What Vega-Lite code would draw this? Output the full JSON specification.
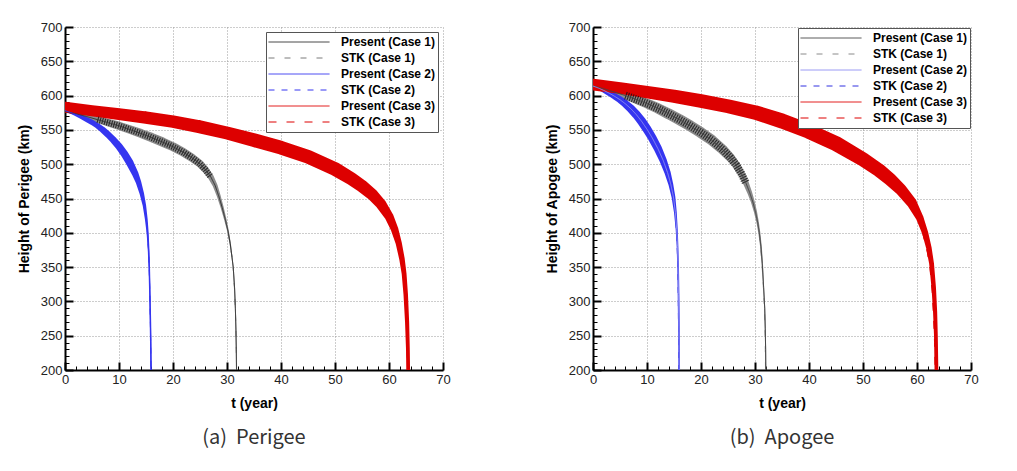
{
  "$schema": "https://vega.github.io/schema/vega-lite/v6.json",
  "padding": {"left": 17, "top": 21, "right": 5, "bottom": 5},
  "background": "white",
  "datasets": {
    "bandA": [
      {"series": "Present (Case 1)", "t": 0, "h": 577, "amp": 2},
      {"series": "Present (Case 1)", "t": 2, "h": 573.5, "amp": 4},
      {"series": "Present (Case 1)", "t": 4, "h": 569.5, "amp": 7},
      {"series": "Present (Case 1)", "t": 6, "h": 565, "amp": 9},
      {"series": "Present (Case 1)", "t": 8, "h": 560.5, "amp": 11},
      {"series": "Present (Case 1)", "t": 10, "h": 556, "amp": 12},
      {"series": "Present (Case 1)", "t": 12, "h": 550.5, "amp": 12.5},
      {"series": "Present (Case 1)", "t": 14, "h": 545, "amp": 13},
      {"series": "Present (Case 1)", "t": 16, "h": 539, "amp": 13.5},
      {"series": "Present (Case 1)", "t": 18, "h": 532.5, "amp": 13.5},
      {"series": "Present (Case 1)", "t": 20, "h": 525.5, "amp": 13},
      {"series": "Present (Case 1)", "t": 22, "h": 517, "amp": 12.5},
      {"series": "Present (Case 1)", "t": 23.5, "h": 509.5, "amp": 12},
      {"series": "Present (Case 1)", "t": 25, "h": 500.5, "amp": 11},
      {"series": "Present (Case 1)", "t": 26, "h": 492, "amp": 10},
      {"series": "Present (Case 1)", "t": 27, "h": 481.5, "amp": 8.5},
      {"series": "Present (Case 1)", "t": 27.8, "h": 469, "amp": 7},
      {"series": "Present (Case 1)", "t": 28.5, "h": 453, "amp": 5.5},
      {"series": "Present (Case 1)", "t": 29.1, "h": 437, "amp": 4.5},
      {"series": "Present (Case 1)", "t": 29.7, "h": 419, "amp": 3.5},
      {"series": "Present (Case 1)", "t": 30.2, "h": 402, "amp": 2.5},
      {"series": "Present (Case 1)", "t": 30.6, "h": 384, "amp": 2},
      {"series": "Present (Case 1)", "t": 30.9, "h": 366, "amp": 1.5},
      {"series": "Present (Case 1)", "t": 31.15, "h": 350, "amp": 1.5},
      {"series": "Present (Case 1)", "t": 31.4, "h": 320, "amp": 1.5},
      {"series": "Present (Case 1)", "t": 31.55, "h": 290, "amp": 1.5},
      {"series": "Present (Case 1)", "t": 31.65, "h": 260, "amp": 1.5},
      {"series": "Present (Case 1)", "t": 31.72, "h": 230, "amp": 1.5},
      {"series": "Present (Case 1)", "t": 31.76, "h": 200, "amp": 1.5},
      {"series": "Present (Case 2)", "t": 0, "h": 578, "amp": 2},
      {"series": "Present (Case 2)", "t": 1, "h": 575.5, "amp": 3.5},
      {"series": "Present (Case 2)", "t": 2, "h": 572.5, "amp": 5},
      {"series": "Present (Case 2)", "t": 3, "h": 569, "amp": 6},
      {"series": "Present (Case 2)", "t": 4, "h": 565, "amp": 7},
      {"series": "Present (Case 2)", "t": 5, "h": 561, "amp": 7.5},
      {"series": "Present (Case 2)", "t": 6, "h": 556, "amp": 8},
      {"series": "Present (Case 2)", "t": 7, "h": 550, "amp": 9},
      {"series": "Present (Case 2)", "t": 8, "h": 543, "amp": 9.5},
      {"series": "Present (Case 2)", "t": 9, "h": 535, "amp": 10},
      {"series": "Present (Case 2)", "t": 10, "h": 526, "amp": 10.5},
      {"series": "Present (Case 2)", "t": 11, "h": 515, "amp": 11},
      {"series": "Present (Case 2)", "t": 12, "h": 502, "amp": 11},
      {"series": "Present (Case 2)", "t": 13, "h": 486, "amp": 9.5},
      {"series": "Present (Case 2)", "t": 13.6, "h": 474, "amp": 8},
      {"series": "Present (Case 2)", "t": 14.2, "h": 458, "amp": 6.5},
      {"series": "Present (Case 2)", "t": 14.7, "h": 440, "amp": 5},
      {"series": "Present (Case 2)", "t": 15.05, "h": 420, "amp": 4},
      {"series": "Present (Case 2)", "t": 15.3, "h": 400, "amp": 3},
      {"series": "Present (Case 2)", "t": 15.5, "h": 372, "amp": 2.5},
      {"series": "Present (Case 2)", "t": 15.62, "h": 345, "amp": 2.2},
      {"series": "Present (Case 2)", "t": 15.72, "h": 310, "amp": 2.2},
      {"series": "Present (Case 2)", "t": 15.82, "h": 270, "amp": 2.2},
      {"series": "Present (Case 2)", "t": 15.88, "h": 240, "amp": 2.2},
      {"series": "Present (Case 2)", "t": 15.93, "h": 200, "amp": 2.2},
      {"series": "Present (Case 3)", "t": 0, "h": 583, "amp": 16},
      {"series": "Present (Case 3)", "t": 5, "h": 578, "amp": 16},
      {"series": "Present (Case 3)", "t": 10, "h": 573, "amp": 17},
      {"series": "Present (Case 3)", "t": 15, "h": 568, "amp": 18},
      {"series": "Present (Case 3)", "t": 20, "h": 562, "amp": 18},
      {"series": "Present (Case 3)", "t": 25, "h": 554.5, "amp": 19},
      {"series": "Present (Case 3)", "t": 30, "h": 545.5, "amp": 19},
      {"series": "Present (Case 3)", "t": 35, "h": 535, "amp": 20},
      {"series": "Present (Case 3)", "t": 40, "h": 524, "amp": 20},
      {"series": "Present (Case 3)", "t": 45, "h": 511, "amp": 20},
      {"series": "Present (Case 3)", "t": 50, "h": 493, "amp": 20},
      {"series": "Present (Case 3)", "t": 53, "h": 479, "amp": 19},
      {"series": "Present (Case 3)", "t": 55, "h": 468, "amp": 18.5},
      {"series": "Present (Case 3)", "t": 57, "h": 455, "amp": 17},
      {"series": "Present (Case 3)", "t": 58.5, "h": 442, "amp": 15.5},
      {"series": "Present (Case 3)", "t": 60, "h": 424, "amp": 13},
      {"series": "Present (Case 3)", "t": 61, "h": 406, "amp": 11},
      {"series": "Present (Case 3)", "t": 61.8, "h": 385, "amp": 9},
      {"series": "Present (Case 3)", "t": 62.4, "h": 362, "amp": 8},
      {"series": "Present (Case 3)", "t": 62.8, "h": 340, "amp": 7},
      {"series": "Present (Case 3)", "t": 63.1, "h": 310, "amp": 6.5},
      {"series": "Present (Case 3)", "t": 63.35, "h": 270, "amp": 6},
      {"series": "Present (Case 3)", "t": 63.5, "h": 230, "amp": 5.5},
      {"series": "Present (Case 3)", "t": 63.55, "h": 200, "amp": 5.5}
    ],
    "stkA": [
      {"series": "STK (Case 1)", "t": 0, "h": 577},
      {"series": "STK (Case 1)", "t": 6, "h": 565},
      {"series": "STK (Case 1)", "t": 12, "h": 550.5},
      {"series": "STK (Case 1)", "t": 18, "h": 532.5},
      {"series": "STK (Case 1)", "t": 22, "h": 517},
      {"series": "STK (Case 1)", "t": 25, "h": 500.5},
      {"series": "STK (Case 1)", "t": 27, "h": 481.5},
      {"series": "STK (Case 1)", "t": 28.5, "h": 453},
      {"series": "STK (Case 1)", "t": 29.7, "h": 419},
      {"series": "STK (Case 1)", "t": 30.6, "h": 384},
      {"series": "STK (Case 1)", "t": 31.15, "h": 350},
      {"series": "STK (Case 1)", "t": 31.45, "h": 310},
      {"series": "STK (Case 1)", "t": 31.66, "h": 260},
      {"series": "STK (Case 1)", "t": 31.78, "h": 200},
      {"series": "STK (Case 2)", "t": 0, "h": 578},
      {"series": "STK (Case 2)", "t": 3, "h": 569},
      {"series": "STK (Case 2)", "t": 6, "h": 556},
      {"series": "STK (Case 2)", "t": 9, "h": 535},
      {"series": "STK (Case 2)", "t": 11, "h": 515},
      {"series": "STK (Case 2)", "t": 13, "h": 486},
      {"series": "STK (Case 2)", "t": 14.2, "h": 458},
      {"series": "STK (Case 2)", "t": 15.05, "h": 420},
      {"series": "STK (Case 2)", "t": 15.5, "h": 372},
      {"series": "STK (Case 2)", "t": 15.72, "h": 310},
      {"series": "STK (Case 2)", "t": 15.85, "h": 250},
      {"series": "STK (Case 2)", "t": 15.94, "h": 200},
      {"series": "STK (Case 3)", "t": 0, "h": 583},
      {"series": "STK (Case 3)", "t": 10, "h": 573},
      {"series": "STK (Case 3)", "t": 20, "h": 562},
      {"series": "STK (Case 3)", "t": 30, "h": 545.5},
      {"series": "STK (Case 3)", "t": 40, "h": 524},
      {"series": "STK (Case 3)", "t": 50, "h": 493},
      {"series": "STK (Case 3)", "t": 55, "h": 467},
      {"series": "STK (Case 3)", "t": 58.5, "h": 441},
      {"series": "STK (Case 3)", "t": 60, "h": 422},
      {"series": "STK (Case 3)", "t": 61, "h": 403},
      {"series": "STK (Case 3)", "t": 61.8, "h": 381},
      {"series": "STK (Case 3)", "t": 62.4, "h": 356},
      {"series": "STK (Case 3)", "t": 62.8, "h": 330},
      {"series": "STK (Case 3)", "t": 63.05, "h": 300},
      {"series": "STK (Case 3)", "t": 63.3, "h": 250},
      {"series": "STK (Case 3)", "t": 63.42, "h": 200}
    ],
    "bandB": [
      {"series": "Present (Case 1)", "t": 0, "h": 614, "amp": 2},
      {"series": "Present (Case 1)", "t": 2, "h": 610, "amp": 5},
      {"series": "Present (Case 1)", "t": 4, "h": 605, "amp": 8},
      {"series": "Present (Case 1)", "t": 6, "h": 600, "amp": 11},
      {"series": "Present (Case 1)", "t": 8, "h": 594.5, "amp": 13},
      {"series": "Present (Case 1)", "t": 10, "h": 588.5, "amp": 14},
      {"series": "Present (Case 1)", "t": 12, "h": 581.5, "amp": 15},
      {"series": "Present (Case 1)", "t": 14, "h": 573.5, "amp": 16},
      {"series": "Present (Case 1)", "t": 16, "h": 565, "amp": 16},
      {"series": "Present (Case 1)", "t": 18, "h": 556, "amp": 16},
      {"series": "Present (Case 1)", "t": 20, "h": 546, "amp": 16},
      {"series": "Present (Case 1)", "t": 22, "h": 535, "amp": 15.5},
      {"series": "Present (Case 1)", "t": 24, "h": 521.5, "amp": 14.5},
      {"series": "Present (Case 1)", "t": 25.4, "h": 510, "amp": 13},
      {"series": "Present (Case 1)", "t": 26.5, "h": 499, "amp": 11.5},
      {"series": "Present (Case 1)", "t": 27.5, "h": 486, "amp": 10},
      {"series": "Present (Case 1)", "t": 28.3, "h": 473, "amp": 8.5},
      {"series": "Present (Case 1)", "t": 29, "h": 459, "amp": 7},
      {"series": "Present (Case 1)", "t": 29.6, "h": 445, "amp": 5.5},
      {"series": "Present (Case 1)", "t": 30.1, "h": 430, "amp": 4.5},
      {"series": "Present (Case 1)", "t": 30.5, "h": 415, "amp": 3.5},
      {"series": "Present (Case 1)", "t": 30.8, "h": 400, "amp": 3},
      {"series": "Present (Case 1)", "t": 31.1, "h": 380, "amp": 2.5},
      {"series": "Present (Case 1)", "t": 31.35, "h": 355, "amp": 2},
      {"series": "Present (Case 1)", "t": 31.6, "h": 320, "amp": 1.5},
      {"series": "Present (Case 1)", "t": 31.8, "h": 290, "amp": 1.5},
      {"series": "Present (Case 1)", "t": 31.9, "h": 260, "amp": 1.5},
      {"series": "Present (Case 1)", "t": 31.97, "h": 230, "amp": 1.5},
      {"series": "Present (Case 1)", "t": 32.0, "h": 200, "amp": 1.5},
      {"series": "Present (Case 2)", "t": 0, "h": 614, "amp": 3},
      {"series": "Present (Case 2)", "t": 1, "h": 611, "amp": 5},
      {"series": "Present (Case 2)", "t": 2, "h": 607.5, "amp": 6.5},
      {"series": "Present (Case 2)", "t": 3, "h": 603.5, "amp": 8},
      {"series": "Present (Case 2)", "t": 4, "h": 599, "amp": 9},
      {"series": "Present (Case 2)", "t": 5, "h": 594, "amp": 10},
      {"series": "Present (Case 2)", "t": 6, "h": 588, "amp": 11},
      {"series": "Present (Case 2)", "t": 7, "h": 581, "amp": 12},
      {"series": "Present (Case 2)", "t": 8, "h": 572.5, "amp": 12.5},
      {"series": "Present (Case 2)", "t": 9, "h": 562.5, "amp": 13},
      {"series": "Present (Case 2)", "t": 10, "h": 551, "amp": 13},
      {"series": "Present (Case 2)", "t": 11, "h": 538, "amp": 12.5},
      {"series": "Present (Case 2)", "t": 12, "h": 523, "amp": 12},
      {"series": "Present (Case 2)", "t": 13, "h": 505.5, "amp": 10.5},
      {"series": "Present (Case 2)", "t": 13.8, "h": 488, "amp": 9},
      {"series": "Present (Case 2)", "t": 14.4, "h": 471, "amp": 7},
      {"series": "Present (Case 2)", "t": 14.9, "h": 452, "amp": 5.5},
      {"series": "Present (Case 2)", "t": 15.25, "h": 430, "amp": 4},
      {"series": "Present (Case 2)", "t": 15.5, "h": 405, "amp": 3},
      {"series": "Present (Case 2)", "t": 15.65, "h": 380, "amp": 2.5},
      {"series": "Present (Case 2)", "t": 15.76, "h": 350, "amp": 2.5},
      {"series": "Present (Case 2)", "t": 15.84, "h": 310, "amp": 2.5},
      {"series": "Present (Case 2)", "t": 15.9, "h": 270, "amp": 2.5},
      {"series": "Present (Case 2)", "t": 15.94, "h": 230, "amp": 2.5},
      {"series": "Present (Case 2)", "t": 15.96, "h": 200, "amp": 2.5},
      {"series": "Present (Case 3)", "t": 0, "h": 616, "amp": 17},
      {"series": "Present (Case 3)", "t": 5, "h": 611, "amp": 17},
      {"series": "Present (Case 3)", "t": 10, "h": 605, "amp": 18},
      {"series": "Present (Case 3)", "t": 15, "h": 599, "amp": 19},
      {"series": "Present (Case 3)", "t": 20, "h": 592, "amp": 20},
      {"series": "Present (Case 3)", "t": 25, "h": 584.5, "amp": 20},
      {"series": "Present (Case 3)", "t": 30, "h": 575.5, "amp": 21},
      {"series": "Present (Case 3)", "t": 35, "h": 563, "amp": 22},
      {"series": "Present (Case 3)", "t": 40, "h": 548, "amp": 22},
      {"series": "Present (Case 3)", "t": 45, "h": 530, "amp": 22},
      {"series": "Present (Case 3)", "t": 50, "h": 507, "amp": 21},
      {"series": "Present (Case 3)", "t": 53, "h": 491, "amp": 20},
      {"series": "Present (Case 3)", "t": 55, "h": 478, "amp": 19},
      {"series": "Present (Case 3)", "t": 57, "h": 463, "amp": 17},
      {"series": "Present (Case 3)", "t": 59, "h": 444, "amp": 15},
      {"series": "Present (Case 3)", "t": 60.5, "h": 422, "amp": 11},
      {"series": "Present (Case 3)", "t": 61.5, "h": 400, "amp": 9},
      {"series": "Present (Case 3)", "t": 62.2, "h": 378, "amp": 8},
      {"series": "Present (Case 3)", "t": 62.7, "h": 355, "amp": 7},
      {"series": "Present (Case 3)", "t": 63.1, "h": 320, "amp": 6.5},
      {"series": "Present (Case 3)", "t": 63.35, "h": 285, "amp": 6},
      {"series": "Present (Case 3)", "t": 63.5, "h": 250, "amp": 5.5},
      {"series": "Present (Case 3)", "t": 63.6, "h": 200, "amp": 5.5}
    ],
    "stkB": [
      {"series": "STK (Case 1)", "t": 0, "h": 614},
      {"series": "STK (Case 1)", "t": 6, "h": 600},
      {"series": "STK (Case 1)", "t": 12, "h": 581.5},
      {"series": "STK (Case 1)", "t": 18, "h": 556},
      {"series": "STK (Case 1)", "t": 22, "h": 535},
      {"series": "STK (Case 1)", "t": 25.4, "h": 510},
      {"series": "STK (Case 1)", "t": 27.5, "h": 486},
      {"series": "STK (Case 1)", "t": 29, "h": 459},
      {"series": "STK (Case 1)", "t": 30.1, "h": 430},
      {"series": "STK (Case 1)", "t": 30.8, "h": 400},
      {"series": "STK (Case 1)", "t": 31.3, "h": 355},
      {"series": "STK (Case 1)", "t": 31.55, "h": 320},
      {"series": "STK (Case 1)", "t": 31.75, "h": 290},
      {"series": "STK (Case 1)", "t": 31.88, "h": 250},
      {"series": "STK (Case 1)", "t": 31.95, "h": 200},
      {"series": "STK (Case 2)", "t": 0, "h": 614},
      {"series": "STK (Case 2)", "t": 3, "h": 603.5},
      {"series": "STK (Case 2)", "t": 6, "h": 588},
      {"series": "STK (Case 2)", "t": 9, "h": 562.5},
      {"series": "STK (Case 2)", "t": 11, "h": 538},
      {"series": "STK (Case 2)", "t": 13, "h": 505.5},
      {"series": "STK (Case 2)", "t": 14.4, "h": 471},
      {"series": "STK (Case 2)", "t": 14.9, "h": 452},
      {"series": "STK (Case 2)", "t": 15.25, "h": 428},
      {"series": "STK (Case 2)", "t": 15.48, "h": 400},
      {"series": "STK (Case 2)", "t": 15.63, "h": 370},
      {"series": "STK (Case 2)", "t": 15.73, "h": 340},
      {"series": "STK (Case 2)", "t": 15.8, "h": 300},
      {"series": "STK (Case 2)", "t": 15.85, "h": 250},
      {"series": "STK (Case 2)", "t": 15.88, "h": 200},
      {"series": "STK (Case 3)", "t": 0, "h": 616},
      {"series": "STK (Case 3)", "t": 10, "h": 605},
      {"series": "STK (Case 3)", "t": 20, "h": 592},
      {"series": "STK (Case 3)", "t": 30, "h": 575.5},
      {"series": "STK (Case 3)", "t": 40, "h": 548},
      {"series": "STK (Case 3)", "t": 50, "h": 506},
      {"series": "STK (Case 3)", "t": 55, "h": 476},
      {"series": "STK (Case 3)", "t": 57, "h": 460},
      {"series": "STK (Case 3)", "t": 58.8, "h": 440},
      {"series": "STK (Case 3)", "t": 60.2, "h": 418},
      {"series": "STK (Case 3)", "t": 61.1, "h": 398},
      {"series": "STK (Case 3)", "t": 61.9, "h": 372},
      {"series": "STK (Case 3)", "t": 62.4, "h": 348},
      {"series": "STK (Case 3)", "t": 62.8, "h": 315},
      {"series": "STK (Case 3)", "t": 63.05, "h": 280},
      {"series": "STK (Case 3)", "t": 63.25, "h": 240},
      {"series": "STK (Case 3)", "t": 63.35, "h": 200}
    ]
  },
  "config": {
    "view": {"stroke": null},
    "axis": {
      "grid": true,
      "gridDash": [1, 2],
      "gridColor": "#9a9a9a",
      "gridWidth": 1,
      "domainColor": "black",
      "domainWidth": 2,
      "tickColor": "black",
      "tickCount": 200,
      "format": "d",
      "labelPadding": 11,
      "labelFont": "Liberation Sans",
      "labelFontSize": 13,
      "labelColor": "#222222",
      "labelOverlap": false,
      "labelFlush": false,
      "titleFont": "Liberation Sans",
      "titleFontSize": 14,
      "titleFontWeight": "bold",
      "titleColor": "black"
    },
    "legend": {
      "orient": "top-right",
      "offset": 5,
      "symbolType": "stroke",
      "symbolSize": 3721,
      "clipHeight": 16,
      "rowPadding": 0,
      "labelOffset": 11,
      "labelFont": "Liberation Sans",
      "labelFontSize": 12,
      "labelFontWeight": "bold",
      "labelColor": "black",
      "labelLimit": 250,
      "padding": 2,
      "strokeColor": "#555555",
      "fillColor": "white",
      "titlePadding": 0
    },
    "title": {
      "orient": "bottom",
      "font": "Noto Sans CJK KR",
      "fontSize": 20,
      "fontWeight": "normal",
      "color": "#333333",
      "offset": 18
    }
  },
  "hconcat": [
    {
      "width": 378,
      "height": 343,
      "title": {"text": "(a)\u00a0 Perigee"},
      "layer": [
        {
          "data": {"name": "stkA"},
          "mark": {"type": "line", "clip": true},
          "encoding": {
            "x": {"field": "t", "type": "quantitative", "scale": {"domain": [0, 70], "nice": false},
                  "axis": {"values": [0, 2, 4, 6, 8, 10, 12, 14, 16, 18, 20, 22, 24, 26, 28, 30, 32, 34, 36, 38, 40, 42, 44, 46, 48, 50, 52, 54, 56, 58, 60, 62, 64, 66, 68, 70],
                           "tickCount": 200, "format": "d",
                           "labelExpr": "datum.value % 10 === 0 ? datum.label : ''",
                           "tickSize": {"condition": {"test": "datum.value % 10 === 0", "value": -8}, "value": -4},
                           "tickWidth": {"condition": {"test": "datum.value % 10 === 0", "value": 2}, "value": 1},
                           "gridOpacity": {"condition": {"test": "datum.value % 10 === 0", "value": 1}, "value": 0},
                           "labelPadding": {"condition": {"test": "datum.value % 10 === 0", "value": 11}, "value": 7},
                           "title": "t (year)", "titlePadding": 10}},
            "y": {"field": "h", "type": "quantitative", "scale": {"domain": [200, 700], "nice": false, "zero": false},
                  "axis": {"values": [200, 210, 220, 230, 240, 250, 260, 270, 280, 290, 300, 310, 320, 330, 340, 350, 360, 370, 380, 390, 400, 410, 420, 430, 440, 450, 460, 470, 480, 490, 500, 510, 520, 530, 540, 550, 560, 570, 580, 590, 600, 610, 620, 630, 640, 650, 660, 670, 680, 690, 700],
                           "tickCount": 200, "format": "d",
                           "labelExpr": "datum.value % 50 === 0 ? datum.label : ''",
                           "tickSize": {"condition": {"test": "datum.value % 50 === 0", "value": -8}, "value": -4},
                           "tickWidth": {"condition": {"test": "datum.value % 50 === 0", "value": 2}, "value": 1},
                           "gridOpacity": {"condition": {"test": "datum.value % 50 === 0", "value": 1}, "value": 0},
                           "labelPadding": {"condition": {"test": "datum.value % 50 === 0", "value": 11}, "value": 7},
                           "title": "Height of Perigee (km)", "titlePadding": 9}},
            "color": {"field": "series", "type": "nominal", "legend": {"title": null},
                      "scale": {"domain": ["Present (Case 1)", "STK (Case 1)", "Present (Case 2)", "STK (Case 2)", "Present (Case 3)", "STK (Case 3)"],
                                "range": ["#333333", "#7a7a7a", "#3535f0", "#3535f0", "#dd0000", "#dd0000"]}},
            "strokeDash": {"field": "series", "type": "nominal", "legend": {"title": null},
                           "scale": {"domain": ["Present (Case 1)", "STK (Case 1)", "Present (Case 2)", "STK (Case 2)", "Present (Case 3)", "STK (Case 3)"],
                                     "range": [[1, 0], [6, 10], [1, 0], [6, 7], [1, 0], [8, 10]]}},
            "strokeWidth": {"field": "series", "type": "nominal", "legend": {"title": null},
                            "scale": {"domain": ["Present (Case 1)", "STK (Case 1)", "Present (Case 2)", "STK (Case 2)", "Present (Case 3)", "STK (Case 3)"],
                                      "range": [1, 1, 1.5, 1.5, 3.5, 3.5]}}
          }
        },
        {
          "data": {"name": "bandA"},
          "mark": {"type": "trail", "clip": true},
          "encoding": {
            "x": {"field": "t", "type": "quantitative"},
            "y": {"field": "h", "type": "quantitative"},
            "fill": {"field": "series", "type": "nominal", "legend": null,
                     "scale": {"domain": ["Present (Case 1)", "Present (Case 2)", "Present (Case 3)"], "range": ["#8c8c8c", "#3535f0", "#dd0000"]}},
            "size": {"field": "amp", "type": "quantitative", "legend": null, "scale": {"domain": [0, 30], "range": [0, 20.6], "zero": true}}
          }
        },
        {
          "data": {"name": "bandA"},
          "transform": [{"filter": "datum.series === 'Present (Case 1)' && datum.t >= 6 && datum.t <= 27"}],
          "mark": {"type": "line", "clip": true, "color": "#111111", "strokeWidth": 6.5, "strokeDash": [1.1, 1.3], "strokeCap": "butt", "opacity": 0.8},
          "encoding": {
            "x": {"field": "t", "type": "quantitative"},
            "y": {"field": "h", "type": "quantitative"}
          }
        },
        {
          "data": {"name": "bandA"},
          "mark": {"type": "line", "clip": true},
          "encoding": {
            "x": {"field": "t", "type": "quantitative"},
            "y": {"field": "h", "type": "quantitative"},
            "color": {"field": "series", "type": "nominal", "legend": {"title": null}},
            "strokeDash": {"field": "series", "type": "nominal", "legend": {"title": null}},
            "strokeWidth": {"field": "series", "type": "nominal", "legend": {"title": null}}
          }
        }
      ]
    },
    {
      "width": 378,
      "height": 343,
      "title": {"text": "(b)\u00a0 Apogee"},
      "layer": [
        {
          "data": {"name": "stkB"},
          "mark": {"type": "line", "clip": true},
          "encoding": {
            "x": {"field": "t", "type": "quantitative", "scale": {"domain": [0, 70], "nice": false},
                  "axis": {"values": [0, 2, 4, 6, 8, 10, 12, 14, 16, 18, 20, 22, 24, 26, 28, 30, 32, 34, 36, 38, 40, 42, 44, 46, 48, 50, 52, 54, 56, 58, 60, 62, 64, 66, 68, 70],
                           "tickCount": 200, "format": "d",
                           "labelExpr": "datum.value % 10 === 0 ? datum.label : ''",
                           "tickSize": {"condition": {"test": "datum.value % 10 === 0", "value": -8}, "value": -4},
                           "tickWidth": {"condition": {"test": "datum.value % 10 === 0", "value": 2}, "value": 1},
                           "gridOpacity": {"condition": {"test": "datum.value % 10 === 0", "value": 1}, "value": 0},
                           "labelPadding": {"condition": {"test": "datum.value % 10 === 0", "value": 11}, "value": 7},
                           "title": "t (year)", "titlePadding": 10}},
            "y": {"field": "h", "type": "quantitative", "scale": {"domain": [200, 700], "nice": false, "zero": false},
                  "axis": {"values": [200, 210, 220, 230, 240, 250, 260, 270, 280, 290, 300, 310, 320, 330, 340, 350, 360, 370, 380, 390, 400, 410, 420, 430, 440, 450, 460, 470, 480, 490, 500, 510, 520, 530, 540, 550, 560, 570, 580, 590, 600, 610, 620, 630, 640, 650, 660, 670, 680, 690, 700],
                           "tickCount": 200, "format": "d",
                           "labelExpr": "datum.value % 50 === 0 ? datum.label : ''",
                           "tickSize": {"condition": {"test": "datum.value % 50 === 0", "value": -8}, "value": -4},
                           "tickWidth": {"condition": {"test": "datum.value % 50 === 0", "value": 2}, "value": 1},
                           "gridOpacity": {"condition": {"test": "datum.value % 50 === 0", "value": 1}, "value": 0},
                           "labelPadding": {"condition": {"test": "datum.value % 50 === 0", "value": 11}, "value": 7},
                           "title": "Height of Apogee (km)", "titlePadding": 9}},
            "color": {"field": "series", "type": "nominal", "legend": {"title": null, "offset": 1},
                      "scale": {"domain": ["Present (Case 1)", "STK (Case 1)", "Present (Case 2)", "STK (Case 2)", "Present (Case 3)", "STK (Case 3)"],
                                "range": ["#444444", "#8a8a8a", "#8c8cf2", "#3030e0", "#dd0000", "#dd0000"]}},
            "strokeDash": {"field": "series", "type": "nominal", "legend": {"title": null, "offset": 1},
                           "scale": {"domain": ["Present (Case 1)", "STK (Case 1)", "Present (Case 2)", "STK (Case 2)", "Present (Case 3)", "STK (Case 3)"],
                                     "range": [[1, 0], [6, 10], [1, 0], [6, 7], [1, 0], [8, 10]]}},
            "strokeWidth": {"field": "series", "type": "nominal", "legend": {"title": null, "offset": 1},
                            "scale": {"domain": ["Present (Case 1)", "STK (Case 1)", "Present (Case 2)", "STK (Case 2)", "Present (Case 3)", "STK (Case 3)"],
                                      "range": [1, 1, 2, 1.5, 3.5, 3.5]}}
          }
        },
        {
          "data": {"name": "bandB"},
          "mark": {"type": "trail", "clip": true},
          "encoding": {
            "x": {"field": "t", "type": "quantitative"},
            "y": {"field": "h", "type": "quantitative"},
            "fill": {"field": "series", "type": "nominal", "legend": null,
                     "scale": {"domain": ["Present (Case 1)", "Present (Case 2)", "Present (Case 3)"], "range": ["#8c8c8c", "#3535f0", "#dd0000"]}},
            "size": {"field": "amp", "type": "quantitative", "legend": null, "scale": {"domain": [0, 30], "range": [0, 20.6], "zero": true}}
          }
        },
        {
          "data": {"name": "bandB"},
          "transform": [{"filter": "datum.series === 'Present (Case 1)' && datum.t >= 6 && datum.t <= 28.3"}],
          "mark": {"type": "line", "clip": true, "color": "#111111", "strokeWidth": 8, "strokeDash": [1.1, 1.3], "strokeCap": "butt", "opacity": 0.8},
          "encoding": {
            "x": {"field": "t", "type": "quantitative"},
            "y": {"field": "h", "type": "quantitative"}
          }
        },
        {
          "data": {"name": "bandB"},
          "mark": {"type": "line", "clip": true},
          "encoding": {
            "x": {"field": "t", "type": "quantitative"},
            "y": {"field": "h", "type": "quantitative"},
            "color": {"field": "series", "type": "nominal", "legend": {"title": null, "offset": 1}},
            "strokeDash": {"field": "series", "type": "nominal", "legend": {"title": null, "offset": 1}},
            "strokeWidth": {"field": "series", "type": "nominal", "legend": {"title": null, "offset": 1}}
          }
        }
      ]
    }
  ],
  "spacing": 94,
  "resolve": {
    "scale": {"color": "independent", "strokeDash": "independent", "strokeWidth": "independent", "fill": "independent", "size": "independent"},
    "legend": {"color": "independent", "strokeDash": "independent", "strokeWidth": "independent"}
  }
}
